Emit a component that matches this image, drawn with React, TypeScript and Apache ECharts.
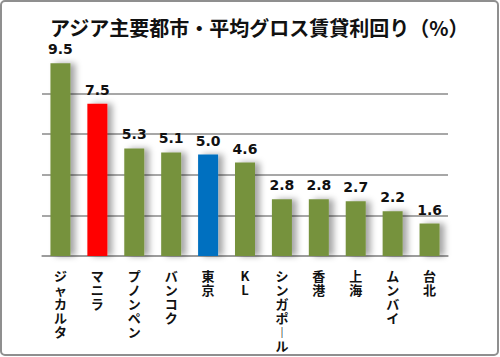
import React, { useEffect, useRef } from "react";
import * as echarts from "echarts";

const titleText = "アジア主要都市・平均グロス賃貸利回り（%）";
const categories = ["ジャカルタ", "マニラ", "プノンペン", "バンコク", "東京", "KL", "シンガポール", "香港", "上海", "ムンバイ", "台北"];
const values = [9.5, 7.5, 5.3, 5.1, 5.0, 4.6, 2.8, 2.8, 2.7, 2.2, 1.6];
const barColors = ["#76923c", "#ff0000", "#76923c", "#76923c", "#0070c0", "#76923c", "#76923c", "#76923c", "#76923c", "#76923c", "#76923c"];

const verticalize = (s: string) =>
  Array.from(s)
    .map((c) => (c === "ー" ? "︱" : c))
    .join("\n");

export default function App() {
  const ref = useRef<HTMLDivElement>(null);
  useEffect(() => {
    const chart = echarts.init(ref.current!, null, { renderer: "svg" });
    chart.setOption({
      animation: false,
      backgroundColor: "#ffffff",
      graphic: [
        {
          type: "rect",
          shape: { x: 1, y: 1, width: 497, height: 354, r: 4 },
          style: { fill: "none", stroke: "#8f8f8f", lineWidth: 2 },
          silent: true,
          z: 100,
        },
      ],
      title: {
        text: titleText,
        left: 45,
        top: 12,
        textStyle: {
          fontFamily: "Noto Sans CJK JP",
          fontWeight: "bold",
          fontSize: 20,
          color: "#111",
        },
      },
      grid: { left: 42, right: 52, top: 53, bottom: 101, containLabel: false },
      xAxis: {
        type: "category",
        data: categories,
        axisLine: { show: true, lineStyle: { color: "#999", width: 1.5 } },
        axisTick: { show: false },
        axisLabel: {
          interval: 0,
          margin: 12,
          verticalAlign: "top",
          formatter: (v: string) => verticalize(v),
          fontFamily: "Noto Sans CJK JP",
          fontWeight: "bold",
          fontSize: 13,
          lineHeight: 14,
          color: "#111",
        },
      },
      yAxis: {
        type: "value",
        min: 0,
        max: 10,
        interval: 2,
        axisLine: { show: false },
        axisTick: { show: false },
        axisLabel: { show: false },
        splitLine: {
          show: true,
          showMaxLine: false,
          lineStyle: { color: "#8a8a8a", width: 1.5 },
        },
      },
      series: [
        {
          type: "bar",
          barWidth: 20,
          data: values.map((v, i) => ({ value: v, itemStyle: { color: barColors[i] } })),
          itemStyle: {
            shadowColor: "rgba(0,0,0,0.35)",
            shadowBlur: 6,
            shadowOffsetX: 5,
            shadowOffsetY: 0,
          },
          label: {
            show: true,
            position: "top",
            distance: 7,
            formatter: (p: any) => p.value.toFixed(1),
            fontFamily: "DejaVu Sans",
            fontWeight: "bold",
            fontSize: 14,
            color: "#111",
          },
        },
      ],
    });
    return () => chart.dispose();
  }, []);
  return (
    <div
      ref={ref}
      style={{ position: "fixed", left: 0, top: 0, width: 500, height: 357 }}
    />
  );
}
